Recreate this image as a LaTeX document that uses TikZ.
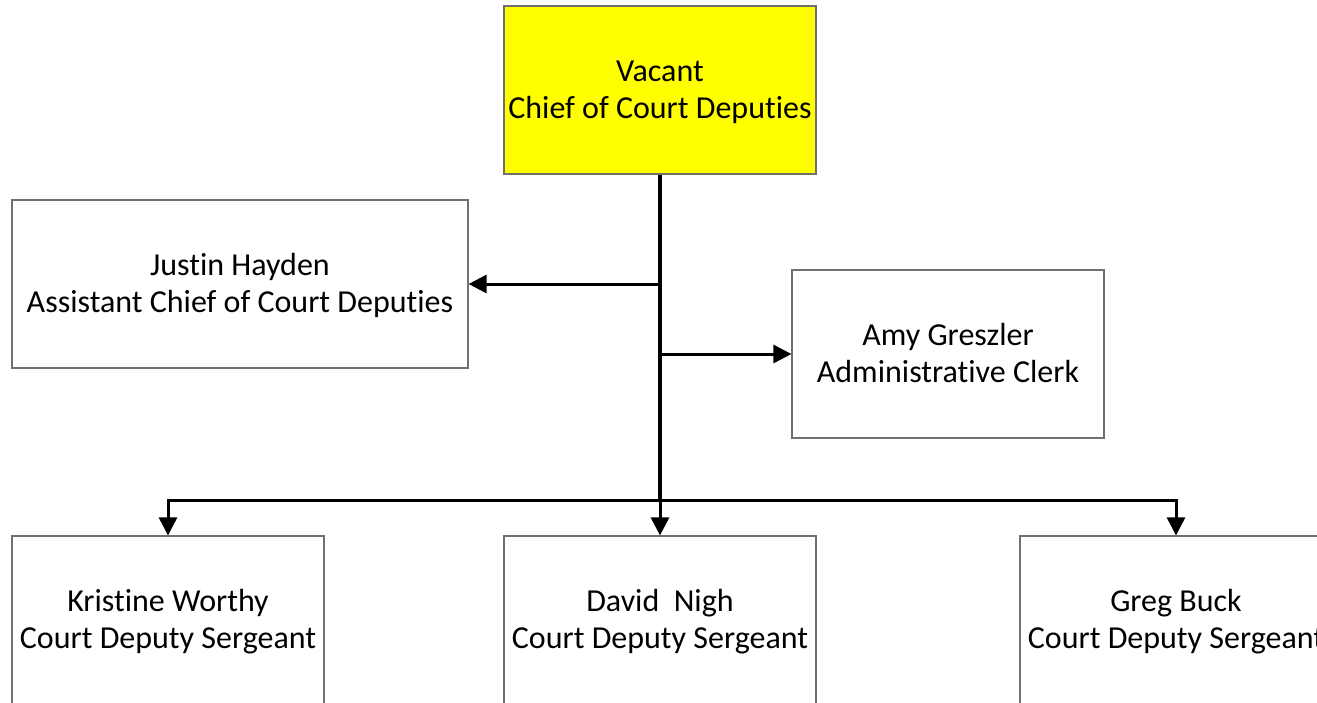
\documentclass[tikz,border=0pt]{standalone}
\usepackage{fontspec}
\setmainfont[Ligatures=NoCommon]{Carlito}
\usetikzlibrary{arrows.meta}
\definecolor{boxgray}{HTML}{707070}
\definecolor{chiefyellow}{HTML}{FFFF00}
\newcommand\twoline[2]{\rule[-8pt]{0pt}{35pt}#1\\\rule[-8pt]{0pt}{35pt}#2}
\tikzset{
  x=1pt, y=-1pt,
  orgbox/.style={draw=boxgray, line width=1.2pt, minimum width=312pt, minimum height=168pt, inner sep=0pt, align=center, font=\fontsize{32}{37}\selectfont},
  link/.style={line width=3pt, draw=black},
  tip/.style={-{Triangle[length=18pt,width=18pt]}}
}
\begin{document}
\begin{tikzpicture}
\useasboundingbox (0,0) rectangle (1317,702);
\clip (0,0) rectangle (1317,702);
\node[orgbox, fill=chiefyellow] (chief) at (660,90) {\twoline{Vacant}{Chief of Court Deputies}};
\node[orgbox, minimum width=456pt] (justin) at (240,284) {\twoline{Justin Hayden}{Assistant Chief of Court Deputies}};
\node[orgbox] (amy) at (948,354) {\twoline{Amy Greszler}{Administrative Clerk}};
\node[orgbox] (kristine) at (168,620) {\twoline{Kristine Worthy}{Court Deputy Sergeant}};
\node[orgbox] (david) at (660,620) {\twoline{David\ \ Nigh}{Court Deputy Sergeant}};
\node[orgbox] (greg) at (1176,620) {\twoline{Greg Buck}{Court Deputy Sergeant}};
\coordinate (bus) at (660,500);
\coordinate (jt) at (660,284);
\coordinate (at) at (660,354);
\draw[link, line width=3.5pt] (chief.south) -- (bus);
\draw[link, tip] (jt) -- (justin.east);
\draw[link, tip] (at) -- (amy.west);
\draw[link, tip] (bus) -| (kristine.north);
\draw[link, tip] (bus) -- (david.north);
\draw[link, tip] (bus) -| (greg.north);
\end{tikzpicture}
\end{document}
